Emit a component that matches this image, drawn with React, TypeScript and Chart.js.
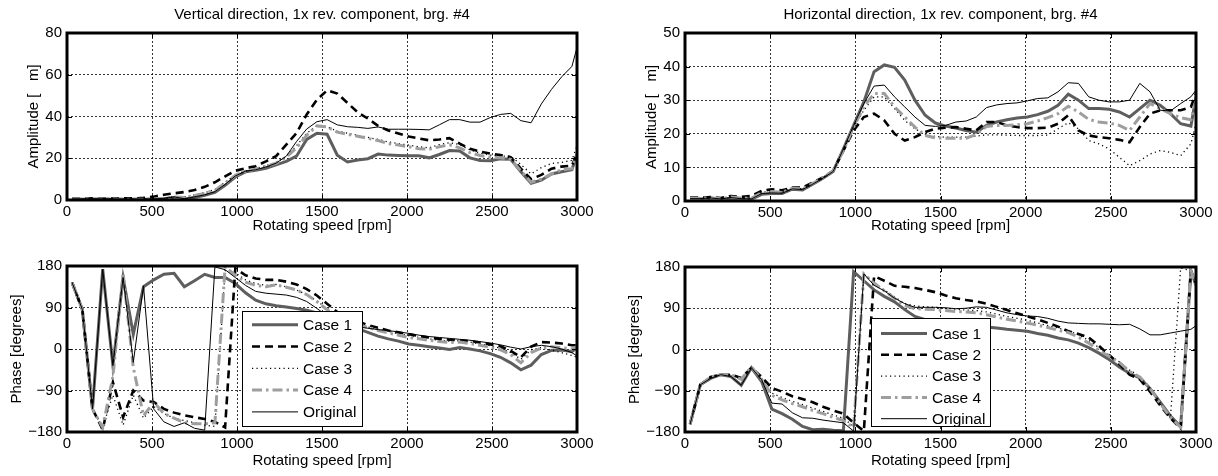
import React, { useEffect, useRef } from "react";
import { Chart, registerables } from "chart.js";

Chart.register(...registerables);

const FONT = "'Liberation Sans', Arial, Helvetica, sans-serif";
Chart.defaults.font.family = FONT;

// Rotating speed grid [rpm]
const speeds = [30, 90, 150, 210, 270, 330, 390, 450, 510, 570, 630, 690, 750, 810, 870, 930, 990, 1050, 1110, 1170, 1230, 1290, 1350, 1410, 1470, 1530, 1590, 1650, 1710, 1770, 1830, 1890, 1950, 2010, 2070, 2130, 2190, 2250, 2310, 2370, 2430, 2490, 2550, 2610, 2670, 2730, 2790, 2850, 2910, 2970, 3000];

const seriesNames = ["Case 1", "Case 2", "Case 3", "Case 4", "Original"];

const xTicks = [0, 500, 1000, 1500, 2000, 2500, 3000];
const ampVertTicks = [0, 20, 40, 60, 80];
const ampHorTicks = [0, 10, 20, 30, 40, 50];
const phaseTicks = [-180, -90, 0, 90, 180];

// Vertical amplitude
const vAmpCase1 = [0.3, 0.3, 0.4, 0.5, 0.4, 0.4, 0.3, 0.3, 0.3, 0.6, 1.2, 0.4, 1.2, 2.2, 3.6, 7, 11, 13.5, 14.2, 15.2, 16.8, 18.5, 21, 29, 32, 31.5, 21.5, 18.2, 19.2, 19.8, 22, 21.5, 21.3, 21.2, 21.2, 20.2, 21.8, 23.7, 23.5, 20.2, 18.9, 18.8, 19.7, 19.5, 13.5, 8, 9.5, 12.5, 13.5, 14.5, 22];
const vAmpCase2 = [0.6, 0.5, 0.8, 0.6, 0.7, 0.8, 0.8, 1, 1.6, 2.5, 3.2, 3.8, 4.8, 6.3, 8.5, 11.3, 14, 15.2, 16.2, 18.5, 21, 26.5, 32, 41, 48, 52.5, 51, 46.5, 42, 39, 35.5, 33.3, 31.8, 30.4, 29.5, 28.6, 29, 29.6, 27, 24.5, 23.2, 22.2, 21.5, 20.5, 15, 10, 12, 15, 16, 16.5, 22];
const vAmpCase3 = [0.4, 0.4, 0.5, 0.5, 0.5, 0.4, 0.4, 0.5, 0.6, 0.9, 1.5, 1.5, 2.5, 3.5, 5, 8.5, 12, 14, 15, 16.5, 18, 21, 26, 32, 35.5, 35, 33, 32, 31, 30, 29, 27.8, 27, 26.3, 25.5, 25, 26.5, 27.5, 26.5, 24, 22.5, 21.5, 21, 21, 17, 12.5, 15.5, 17.5, 18, 19, 26];
const vAmpCase4 = [0.4, 0.4, 0.5, 0.5, 0.5, 0.4, 0.4, 0.4, 0.5, 0.8, 1.4, 1.2, 2.2, 3.2, 4.6, 8, 11.8, 13.8, 14.8, 16.2, 17.6, 20.5, 25, 31, 35.5, 35, 32.5, 31.5, 30.5, 29.5, 28.5, 27, 26.3, 25.5, 24.6, 24.3, 25.5, 26.4, 25, 22.7, 21.3, 20.5, 20.2, 19.5, 14, 8.5, 10, 12.5, 14.5, 15, 22];
const vAmpOrig = [0.5, 0.5, 0.6, 0.5, 0.5, 0.4, 0.4, 0.4, 0.5, 0.8, 1.5, 0.6, 1.5, 2.5, 4, 7.5, 11.5, 13.8, 14.5, 15.8, 17.6, 21, 28, 34, 37.5, 38.5, 36, 35.1, 34.8, 34.3, 35, 33.9, 33.9, 33.9, 33.8, 33.6, 36, 38.5, 38.5, 37.3, 37.3, 39.5, 41, 41.5, 38, 37, 46, 53, 59, 64, 73];

// Horizontal amplitude
const hAmpCase1 = [0.6, 0.6, 0.8, 0.5, 0.8, 0.6, 0.5, 2, 2.2, 2.2, 3.5, 3.3, 5, 6.8, 8.8, 15.5, 22.5, 29.5, 38.5, 40.5, 39.8, 36, 30, 25.5, 23.2, 22.3, 21.7, 21, 20.5, 22.5, 23.5, 24.2, 24.7, 25, 25.7, 26.7, 28.5, 31.8, 30, 27.5, 27.5, 27.3, 26.5, 25, 27.5, 30, 28.5, 26, 23, 22.3, 31];
const hAmpCase2 = [1, 1, 1.2, 0.9, 1.5, 1.2, 1.5, 3, 3.5, 3.2, 4, 4, 5.5, 7, 9, 15, 21, 25, 26, 24, 20, 18, 19, 20.5, 21.5, 21.8, 22, 21.5, 21, 23.5, 23.5, 22.5, 22, 21.7, 21.7, 21.8, 23, 25.5, 21, 19.5, 19, 18.7, 18.2, 17.5, 22, 26, 27, 27, 27, 28, 32];
const hAmpCase3 = [0.8, 0.8, 1, 0.7, 1.2, 0.9, 0.8, 2.5, 2.8, 2.6, 3.8, 3.6, 5.2, 7, 9, 15, 22, 27, 31, 31, 27.5, 24, 21.5, 19.8, 19.2, 19, 19, 19, 19.3, 19.7, 19.7, 19.6, 19.5, 19.5, 19.5, 19.6, 21.5, 23.3, 21.5, 18, 17, 15.5, 13, 10.5, 12, 14, 15, 14.5, 13.5, 17, 23];
const hAmpCase4 = [0.8, 0.8, 1, 0.7, 1.2, 0.9, 0.8, 2.5, 2.8, 2.6, 3.8, 3.6, 5.2, 7, 9, 15, 22, 28, 32, 32, 28, 25, 22, 19.5, 18.8, 18.7, 18.7, 18.7, 19.8, 22.2, 22.5, 22.5, 22.7, 23, 23.8, 24.8, 26, 28.2, 26.5, 24.3, 23.5, 23.2, 22.5, 21, 25, 29, 27.5, 26, 24.8, 24.2, 30];
const hAmpOrig = [0.7, 0.7, 0.9, 0.6, 1, 0.7, 0.6, 2.2, 2.4, 2.3, 3.6, 3.4, 5, 6.8, 8.8, 15.5, 22.5, 29, 34.2, 34.5, 31, 28, 25, 22.5, 22.2, 22.5, 23.5, 23.8, 25, 27.8, 28.6, 29, 29.2, 29.8, 30.5, 30.7, 32.5, 35.2, 35, 31, 30, 29.5, 29.5, 30, 35, 32.5, 27, 26.8, 29, 31, 33];

// Vertical phase [deg]
const vPhCase1 = [144, 86, -130, 173, -36, 155, 32, 135, 150, 162, 164, 135, 148, 162, 155, 155, 142, 122, 106, 98, 94, 91, 88, 84, 78, 70, 62, 54, 44, 36, 28, 22, 17, 11, 8, 5, 2, -1, 3, 0, -4, -10, -18, -30, -45, -35, -12, -3, -2, -6, 3];
const vPhCase2 = [144, 86, -130, -175, -72, -148, -90, -112, -115, -130, -138, -144, -148, -152, -158, -170, 175, 160, 153, 150, 150, 146, 140, 130, 116, 98, 80, 68, 60, 52, 46, 40, 36, 32, 28, 25, 22, 20, 19, 17, 14, 10, 6, -4, -18, 5, 15, 14, 12, 8, 8];
const vPhCase3 = [144, 86, -130, -170, -100, -165, -100, -150, -125, -140, -150, -155, -160, -165, -168, 170, 165, 150, 142, 138, 140, 135, 128, 118, 104, 88, 73, 62, 54, 48, 43, 38, 33, 29, 25, 22, 19, 17, 18, 15, 11, 7, 2, -8, -22, -2, 3, -2, -8, -14, -18];
const vPhCase4 = [144, 86, -130, -170, -60, 165, -40, -145, -115, -140, -150, -160, -162, -162, -160, 178, 160, 145, 138, 135, 139, 134, 128, 118, 103, 85, 70, 60, 52, 47, 40, 35, 30, 25, 22, 19, 16, 14, 15, 12, 8, 4, -2, -12, -30, -8, 2, 5, 3, 0, 5];
const vPhOrig = [144, 86, -130, 173, -36, 155, -29, 137, -130, -158, -168, -160, -172, -176, 178, 172, 155, 138, 125, 121, 119, 117, 112, 103, 88, 72, 62, 54, 48, 45, 42, 40, 37, 34, 30, 27, 25, 23, 21, 19, 16, 13, 9, 4, 0, 5, 8, 5, 0, -8, -15];

// Horizontal phase [deg]
const hPhCase1 = [-163, -77, -63, -55, -59, -78, -40, -70, -130, -140, -152, -168, -175, -174, -176, -177, 170, 150, 130, 116, 104, 87, 72, 65, 60, 57, 55, 53, 51, 49, 47, 44, 42, 40, 35, 31, 25, 21, 14, 4, -8, -22, -38, -52, -62, -85, -115, -145, -168, 172, 140];
const hPhCase2 = [-163, -77, -60, -55, -55, -62, -40, -60, -84, -92, -102, -108, -115, -125, -133, -140, -160, -178, 160, 150, 139, 137, 134, 130, 125, 118, 112, 108, 105, 100, 93, 86, 79, 72, 66, 58, 50, 40, 34, 26, 8, -12, -32, -55, -65, -92, -122, -150, -172, 172, 142];
const hPhCase3 = [-163, -77, -62, -55, -55, -65, -38, -62, -95, -105, -113, -120, -128, -135, -143, -150, -168, 165, 145, 130, 115, 100, 95, 93, 92, 90, 88, 86, 85, 82, 77, 72, 68, 64, 58, 52, 47, 41, 32, 20, 4, -12, -27, -45, -58, -85, -115, -150, 178, 172, 150];
const hPhCase4 = [-163, -77, -60, -55, -55, -65, -38, -65, -100, -110, -118, -125, -133, -140, -148, -155, -170, 165, 145, 128, 112, 96, 89, 88, 87, 85, 83, 82, 80, 76, 71, 66, 62, 58, 53, 48, 42, 37, 27, 14, -2, -15, -28, -48, -60, -85, -118, -148, -170, 172, 140];
const hPhOrig = [-163, -77, -63, -55, -59, -78, -40, -66, -117, -119, -138, -149, -150, -154, -157, -160, -178, 165, 140, 128, 112, 100, 92, 92, 92, 91, 89, 90, 93, 92, 86, 80, 76, 73, 72, 68, 62, 58, 57, 56, 56, 55, 54, 55, 45, 32, 32, 36, 40, 44, 52];

const lineStyles = [
  { color: "#5e5e5e", width: 3, dash: [] as number[] },
  { color: "#000000", width: 2.6, dash: [8, 5] },
  { color: "#000000", width: 1.3, dash: [1.2, 3.3] },
  { color: "#9e9e9e", width: 3, dash: [10, 4, 2.5, 4] },
  { color: "#000000", width: 1, dash: [] as number[] },
];

type LegendCfg = { x: number; y: number; w: number; h: number; first: number; step: number };
type PanelCfg = {
  title?: string;
  yTitle: string;
  yTicks: number[];
  values: number[][];
  box: { left: number; top: number; width: number; height: number };
  area: { left: number; right: number; top: number; bottom: number };
  yTitlePad: number;
  xTitlePad: number;
  legend?: LegendCfg;
};

const fmt = (v: number) => (v < 0 ? "\u2212" + Math.abs(v) : String(v));

function makeFramePlugin(legend?: LegendCfg) {
  return {
    id: "matlabFrame",
    afterDatasetsDraw(chart: any) {
      if (!legend) return;
      const ctx = chart.ctx as CanvasRenderingContext2D;
      ctx.save();
      ctx.setLineDash([]);
      ctx.fillStyle = "#fff";
      ctx.fillRect(legend.x, legend.y, legend.w, legend.h);
      ctx.strokeStyle = "#000";
      ctx.lineWidth = 1;
      ctx.strokeRect(legend.x + 0.5, legend.y + 0.5, legend.w, legend.h);
      seriesNames.forEach((name, i) => {
        const st = lineStyles[i];
        const cy = legend.y + legend.first + i * legend.step;
        ctx.strokeStyle = st.color;
        ctx.lineWidth = st.width;
        ctx.setLineDash(st.dash);
        ctx.beginPath();
        ctx.moveTo(legend.x + 10, cy);
        ctx.lineTo(legend.x + 56, cy);
        ctx.stroke();
        ctx.setLineDash([]);
        ctx.fillStyle = "#000";
        ctx.font = `15.5px ${FONT}`;
        ctx.textBaseline = "middle";
        ctx.textAlign = "left";
        ctx.fillText(name, legend.x + 61, cy + 1);
      });
      ctx.restore();
    },
    afterDraw(chart: any) {
      const ctx = chart.ctx as CanvasRenderingContext2D;
      const a = chart.chartArea;
      const xs = chart.scales.x;
      const ys = chart.scales.y;
      ctx.save();
      ctx.setLineDash([]);
      ctx.strokeStyle = "#000";
      ctx.lineWidth = 1;
      ctx.beginPath();
      xs.ticks.forEach((t: any) => {
        const px = Math.round(xs.getPixelForValue(t.value)) + 0.5;
        ctx.moveTo(px, a.bottom);
        ctx.lineTo(px, a.bottom - 5);
        ctx.moveTo(px, a.top);
        ctx.lineTo(px, a.top + 5);
      });
      ys.ticks.forEach((t: any) => {
        const py = Math.round(ys.getPixelForValue(t.value)) + 0.5;
        ctx.moveTo(a.left, py);
        ctx.lineTo(a.left + 5, py);
        ctx.moveTo(a.right, py);
        ctx.lineTo(a.right - 5, py);
      });
      ctx.stroke();
      ctx.lineWidth = 3;
      ctx.strokeRect(a.left, a.top, a.right - a.left, a.bottom - a.top);
      ctx.restore();
    },
  };
}

function makeConfig(p: PanelCfg): any {
  const datasets = p.values.map((vals, i) => ({
    label: seriesNames[i],
    data: speeds.map((s, j) => ({ x: s, y: vals[j] })),
    borderColor: lineStyles[i].color,
    borderWidth: lineStyles[i].width,
    borderDash: lineStyles[i].dash,
    pointRadius: 0,
    fill: false,
    tension: 0,
    order: 5 - i,
  }));
  const W = p.box.width;
  const H = p.box.height;
  const yMin = p.yTicks[0];
  const yMax = p.yTicks[p.yTicks.length - 1];
  const yStep = p.yTicks[1] - p.yTicks[0];
  const titleSize = 15;
  const titleLH = titleSize * 1.2;
  return {
    type: "line",
    data: { datasets },
    options: {
      responsive: false,
      animation: false,
      events: [],
      layout: {
        padding: { left: 0, right: W - p.area.right, top: p.title ? 0 : p.area.top, bottom: 0 },
      },
      plugins: {
        legend: { display: false },
        tooltip: { enabled: false },
        title: p.title
          ? {
              display: true,
              text: p.title,
              fullSize: false,
              color: "#000",
              font: { family: FONT, size: titleSize, weight: "normal" },
              padding: { top: 6, bottom: p.area.top - titleLH - 6 },
            }
          : { display: false },
      },
      scales: {
        x: {
          type: "linear",
          min: xTicks[0],
          max: xTicks[xTicks.length - 1],
          afterBuildTicks: (s: any) => {
            s.ticks = xTicks.map((v) => ({ value: v }));
          },
          ticks: {
            color: "#000",
            font: { family: FONT, size: 15 },
            maxRotation: 0,
            autoSkip: false,
            padding: 3,
            callback: (v: any) => String(v),
          },
          grid: { color: "#000", lineWidth: 0.8, drawTicks: false },
          border: { display: false, dash: [2, 2] },
          title: {
            display: true,
            text: "Rotating speed [rpm]",
            color: "#000",
            font: { family: FONT, size: 15 },
            padding: { top: 0, bottom: p.xTitlePad },
          },
          afterFit: (s: any) => {
            s.height = H - p.area.bottom;
          },
        },
        y: {
          type: "linear",
          min: yMin,
          max: yMax,
          afterBuildTicks: (s: any) => {
            s.ticks = p.yTicks.map((v) => ({ value: v }));
          },
          ticks: {
            color: "#000",
            font: { family: FONT, size: 15 },
            padding: 5,
            stepSize: yStep,
            callback: (v: any) => fmt(Number(v)),
          },
          grid: { color: "#000", lineWidth: 0.8, drawTicks: false },
          border: { display: false, dash: [2, 2] },
          title: {
            display: true,
            text: p.yTitle,
            color: "#000",
            font: { family: FONT, size: 15 },
            padding: { top: p.yTitlePad, bottom: 0 },
          },
          afterFit: (s: any) => {
            s.width = p.area.left;
          },
        },
      },
    },
    plugins: [makeFramePlugin(p.legend)],
  };
}

const panels: PanelCfg[] = [
  {
    title: "Vertical direction, 1x rev. component, brg. #4",
    yTitle: "Amplitude [   m]",
    yTicks: ampVertTicks,
    values: [vAmpCase1, vAmpCase2, vAmpCase3, vAmpCase4, vAmpOrig],
    box: { left: 0, top: 0, width: 609, height: 238 },
    area: { left: 67, right: 577, top: 33, bottom: 200 },
    yTitlePad: 25,
    xTitlePad: 3.5,
  },
  {
    title: "Horizontal direction, 1x rev. component, brg. #4",
    yTitle: "Amplitude [   m]",
    yTicks: ampHorTicks,
    values: [hAmpCase1, hAmpCase2, hAmpCase3, hAmpCase4, hAmpOrig],
    box: { left: 609, top: 0, width: 609, height: 238 },
    area: { left: 76, right: 587, top: 33, bottom: 201 },
    yTitlePad: 34,
    xTitlePad: 3.5,
  },
  {
    yTitle: "Phase [degrees]",
    yTicks: phaseTicks,
    values: [vPhCase1, vPhCase2, vPhCase3, vPhCase4, vPhOrig],
    box: { left: 0, top: 238, width: 609, height: 238 },
    area: { left: 67, right: 577, top: 28, bottom: 194 },
    yTitlePad: 7.5,
    xTitlePad: 6,
    legend: { x: 242, y: 73, w: 120, h: 115, first: 13.7, step: 21.8 },
  },
  {
    yTitle: "Phase [degrees]",
    yTicks: phaseTicks,
    values: [hPhCase1, hPhCase2, hPhCase3, hPhCase4, hPhOrig],
    box: { left: 609, top: 238, width: 609, height: 238 },
    area: { left: 76, right: 587, top: 29, bottom: 194 },
    yTitlePad: 16.5,
    xTitlePad: 6,
    legend: { x: 262, y: 80, w: 119, h: 108, first: 15.5, step: 21.3 },
  },
];

function Panel({ cfg }: { cfg: PanelCfg }) {
  const ref = useRef<HTMLCanvasElement>(null);
  useEffect(() => {
    if (!ref.current) return;
    const chart = new Chart(ref.current, makeConfig(cfg));
    return () => chart.destroy();
  }, [cfg]);
  return (
    <canvas
      ref={ref}
      width={cfg.box.width}
      height={cfg.box.height}
      style={{
        position: "absolute",
        left: cfg.box.left,
        top: cfg.box.top,
        width: cfg.box.width,
        height: cfg.box.height,
        display: "block",
      }}
    />
  );
}

export default function App() {
  return (
    <div
      style={{
        position: "fixed",
        left: 0,
        top: 0,
        width: 1218,
        height: 476,
        background: "#fff",
        overflow: "hidden",
      }}
    >
      {panels.map((p, i) => (
        <Panel key={i} cfg={p} />
      ))}
    </div>
  );
}
